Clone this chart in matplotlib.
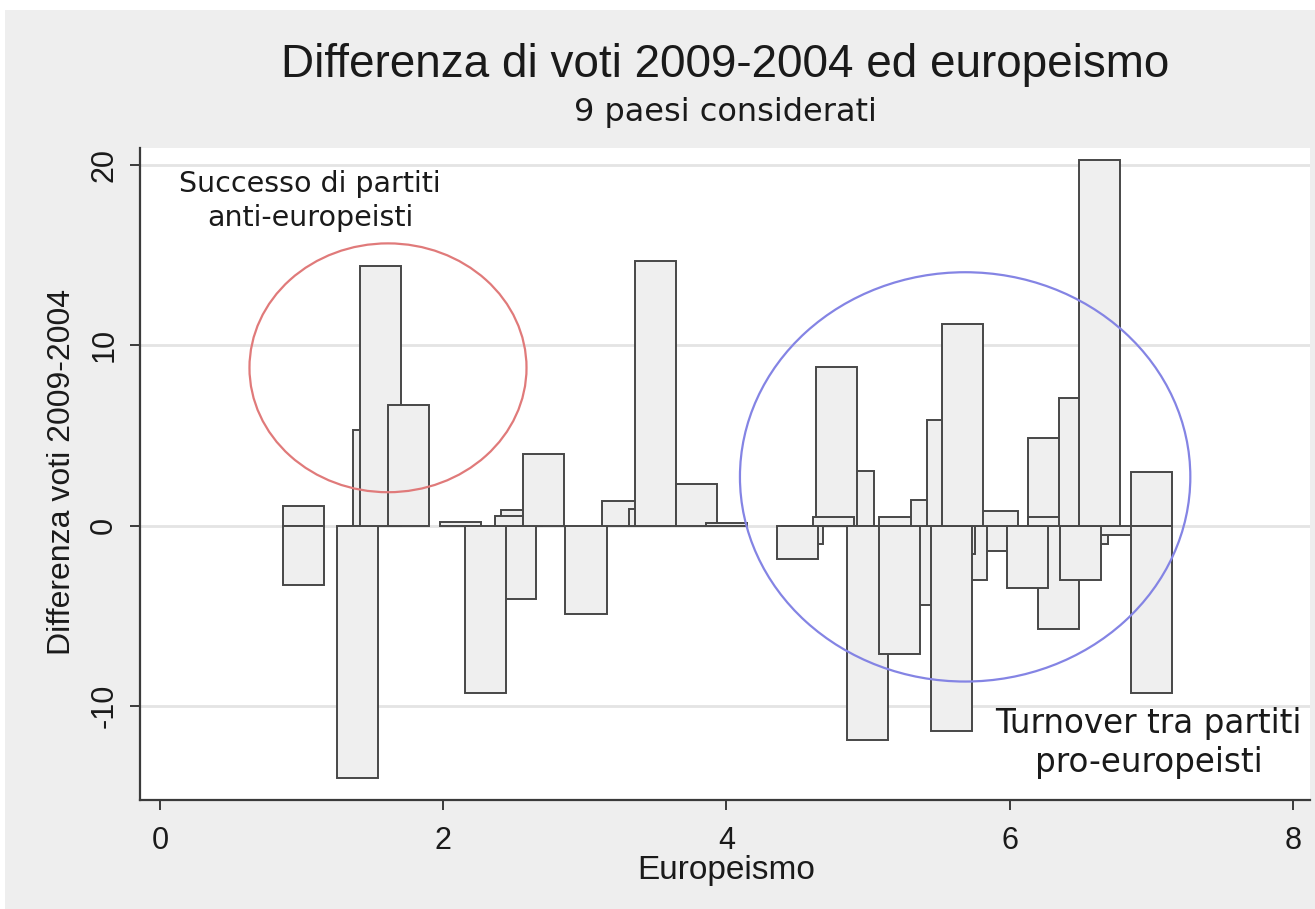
"""Differenza di voti 2009-2004 ed europeismo: Stata-style overlapping bars."""

import matplotlib
matplotlib.use("Agg")
import matplotlib.pyplot as plt
from matplotlib.patches import Ellipse, Rectangle

# europeismo score of each party (bar centre) and vote change, in drawing order
europeismo = [
    1.013, 1.013, 1.508, 1.395, 1.554, 1.755, 2.119, 2.511, 2.300, 2.553,
    2.511, 2.708, 3.008, 3.266, 3.457, 3.500, 3.789, 4.000,
    4.537, 4.499, 4.898, 4.774, 4.756, 4.996, 5.307, 5.219, 5.219, 5.448,
    5.561, 5.837, 5.696, 5.610, 5.590, 5.914, 5.664, 6.345, 6.126, 6.275,
    6.275, 6.551, 6.720, 6.501, 6.494, 6.635, 7.002, 7.002,
]
diff_voti = [
    1.1, -3.3, 5.3, -14.0, 14.4, 6.7, 0.2, -4.1, -9.3, 0.85,
    0.55, 3.95, -4.9, 1.35, 0.9, 14.7, 2.3, 0.15,
    -1.0, -1.85, 3.05, 8.8, 0.45, -11.9, -4.4, -7.1, 0.45, 1.4,
    5.85, -1.4, -3.0, -1.6, -11.4, 0.8, 11.2, -5.75, -3.45, 4.85,
    0.45, -1.0, -0.5, -3.0, 7.05, 20.3, 2.95, -9.3,
]
BAR_WIDTH = 0.29

YTICKS = [-10, 0, 10, 20]
XTICKS = [0, 2, 4, 6, 8]

TITLE = "Differenza di voti 2009-2004 ed europeismo"
SUBTITLE = "9 paesi considerati"
NOTE_ANTI = "Successo di partiti\nanti-europeisti"
NOTE_PRO = "Turnover tra partiti\npro-europeisti"

BG = "#eeeeee"
SANS = ["Liberation Sans", "DejaVu Sans"]

plt.rcParams["axes.unicode_minus"] = False


def main() -> None:
    fig = plt.figure(figsize=(13.15, 9.09), dpi=100, facecolor=BG)
    W, H = 1315, 909

    # thin white margin at the top and left, as in the screenshot
    fig.patches.append(Rectangle((0, 1 - 10 / H), 1, 10 / H, transform=fig.transFigure,
                                 facecolor="white", edgecolor="none", zorder=0))
    fig.patches.append(Rectangle((0, 0), 5 / W, 1, transform=fig.transFigure,
                                 facecolor="white", edgecolor="none", zorder=0))

    left, right, top, bottom = 140, 1310, 148, 800
    ax = fig.add_axes([left / W, 1 - bottom / H, (right - left) / W, (bottom - top) / H])
    ax.set_facecolor("white")

    ax.bar(europeismo, diff_voti, width=BAR_WIDTH, color="#efefef",
           edgecolor="#474747", linewidth=1.4, zorder=3)

    ax.add_patch(Ellipse((1.61, 8.75), 1.956, 13.8, fill=False,
                         edgecolor="#e07a7a", linewidth=1.6, zorder=4))
    ax.add_patch(Ellipse((5.685, 2.7), 3.18, 22.7, fill=False,
                         edgecolor="#8484e4", linewidth=1.6, zorder=4))

    ax.text(1.06, 18.0, NOTE_ANTI, ha="center", va="center", fontsize=20.5,
            family="DejaVu Sans", color="#1a1a1a", linespacing=1.25, zorder=5)
    ax.text(6.98, -12.06, NOTE_PRO, ha="center", va="center", fontsize=23.5,
            family="DejaVu Sans", color="#1a1a1a", linespacing=1.2, zorder=5)

    ax.set_xlim(-0.141, 8.12)
    ax.set_ylim(-15.22, 20.94)
    ax.set_xticks(XTICKS)
    ax.set_yticks(YTICKS)
    ax.grid(axis="y", color="#e4e4e4", linewidth=2.0, zorder=0)
    ax.set_axisbelow(True)

    for side in ("top", "right"):
        ax.spines[side].set_visible(False)
    for side in ("left", "bottom"):
        ax.spines[side].set_color("#3a3a3a")
        ax.spines[side].set_linewidth(1.6)

    ax.tick_params(axis="both", colors="#3a3a3a", length=7, width=1.4,
                   labelsize=22, labelcolor="#1a1a1a")
    ax.tick_params(axis="x", pad=12)
    ax.tick_params(axis="y", pad=8)
    for lab in ax.get_yticklabels():
        lab.set_rotation(90)
        lab.set_va("center")
        lab.set_family(SANS)
    for lab in ax.get_xticklabels():
        lab.set_family(SANS)

    fig.text(725 / W, 1 - 65 / H, TITLE, ha="center", va="center",
             fontsize=33, family=SANS, color="#1a1a1a")
    fig.text(725 / W, 1 - 113 / H, SUBTITLE, ha="center", va="center",
             fontsize=23, family="DejaVu Sans", color="#1a1a1a")
    fig.text(62 / W, 1 - 472 / H, "Differenza voti 2009-2004", rotation=90,
             ha="center", va="center", fontsize=23, family=SANS, color="#1a1a1a")
    fig.text(726 / W, 1 - 871 / H, "Europeismo", ha="center", va="center",
             fontsize=24, family=SANS, color="#1a1a1a")

    fig.savefig("out.png", dpi=100, facecolor=BG)


if __name__ == "__main__":
    main()
